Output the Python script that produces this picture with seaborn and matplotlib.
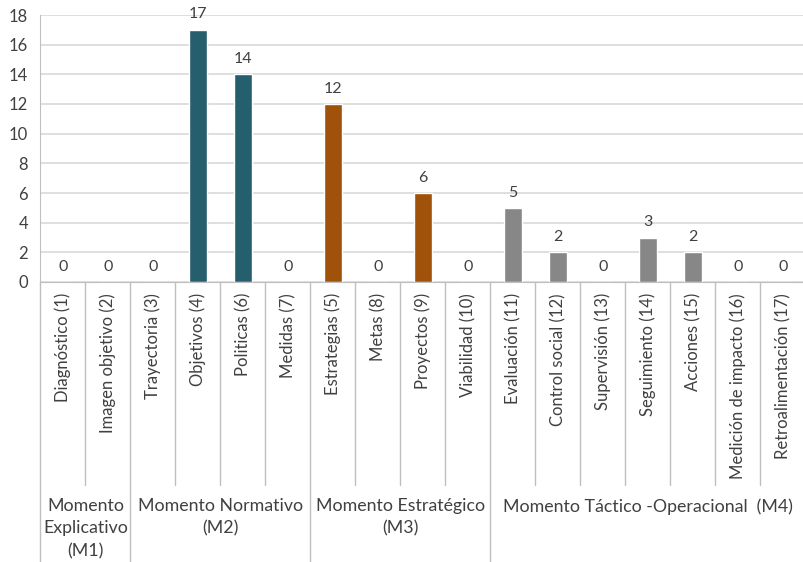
import matplotlib
matplotlib.use("Agg")
import matplotlib.pyplot as plt
import matplotlib.transforms as mtransforms
import seaborn as sns
import pandas as pd

categories = ["Diagnóstico (1)", "Imagen objetivo (2)", "Trayectoria (3)", "Objetivos (4)",
              "Politicas (6)", "Medidas (7)", "Estrategias (5)", "Metas (8)", "Proyectos (9)",
              "Viabilidad (10)", "Evaluación (11)", "Control social (12)", "Supervisión (13)",
              "Seguimiento (14)", "Acciones (15)", "Medición de impacto (16)", "Retroalimentación (17)"]
values = [0, 0, 0, 17, 14, 0, 12, 0, 6, 0, 5, 2, 0, 3, 2, 0, 0]
groups = ["M1", "M1", "M2", "M2", "M2", "M2", "M3", "M3", "M3", "M3",
          "M4", "M4", "M4", "M4", "M4", "M4", "M4"]
group_labels = {"M1": "Momento\nExplicativo\n(M1)",
                "M2": "Momento Normativo\n(M2)",
                "M3": "Momento Estratégico\n(M3)",
                "M4": "Momento Táctico -Operacional  (M4)"}
palette = {"M1": "#255E6D", "M2": "#255E6D", "M3": "#A0520A", "M4": "#878787"}
yticks = [0, 2, 4, 6, 8, 10, 12, 14, 16, 18]

sns.set_style("white")
plt.rcParams["font.family"] = ["Lato", "DejaVu Sans"]
TXT = "#404040"
GRID = "#D9D9D9"
LINE = "#BFBFBF"

df = pd.DataFrame({"cat": categories, "val": values, "grp": groups})

fig = plt.figure(figsize=(8.04, 5.62), dpi=100)
W, H = 804, 562
left_px, right_px, top_px, bot_px = 40.5, 805.5, 15, 282
ax = fig.add_axes([left_px / W, (H - bot_px) / H, (right_px - left_px) / W, (bot_px - top_px) / H])

sns.barplot(data=df, x="cat", y="val", hue="grp", palette=palette, dodge=False,
            width=0.4, ax=ax, legend=False, saturation=1)

ax.set_xlim(-0.5, len(categories) - 0.5)
ax.set_ylim(0, 18)
ax.set_yticks(yticks)
ax.set_yticklabels([str(t) for t in yticks], fontsize=12, color=TXT)
ax.yaxis.grid(True, color=GRID, linewidth=1.2)
ax.set_axisbelow(True)
ax.tick_params(axis="y", length=5, color=LINE, width=1, pad=4)
ax.tick_params(axis="x", length=0, pad=8)
ax.set_xticks(range(len(categories)))
ax.set_xticklabels(categories, rotation=90, fontsize=12, color=TXT, va="top", ha="center")
ax.set_xlabel("")
ax.set_ylabel("")
for s in ["top", "right"]:
    ax.spines[s].set_visible(False)
ax.spines["left"].set_color(LINE)
ax.spines["bottom"].set_color(LINE)
ax.spines["left"].set_bounds(0, 18)

# value labels
for i, v in enumerate(values):
    ax.annotate(str(v), (i, v), xytext=(0, 6), textcoords="offset points",
                ha="center", va="bottom", fontsize=11.5, color=TXT)

# separators
trans = mtransforms.blended_transform_factory(ax.transData, ax.transAxes)
inner_bot = -(485 - bot_px) / (bot_px - top_px)
outer_bot = -(H - bot_px) / (bot_px - top_px)
ax.plot([-0.5, -0.5], [0, outer_bot], transform=trans, color=LINE, lw=1, clip_on=False)
for i in range(1, len(categories)):
    boundary = groups[i] != groups[i - 1]
    ax.plot([i - 0.5, i - 0.5], [0, outer_bot if boundary else inner_bot],
            transform=trans, color=LINE, lw=1, clip_on=False)

# group labels
label_y = -(498 - bot_px) / (bot_px - top_px)
seen = []
for g in groups:
    if g not in seen:
        seen.append(g)
for g in seen:
    idx = [i for i, gg in enumerate(groups) if gg == g]
    center = (idx[0] + idx[-1]) / 2
    ax.text(center, label_y, group_labels[g], transform=trans, ha="center", va="top",
            fontsize=12.8, color=TXT, linespacing=1.5)

fig.savefig("out.png", dpi=100)
